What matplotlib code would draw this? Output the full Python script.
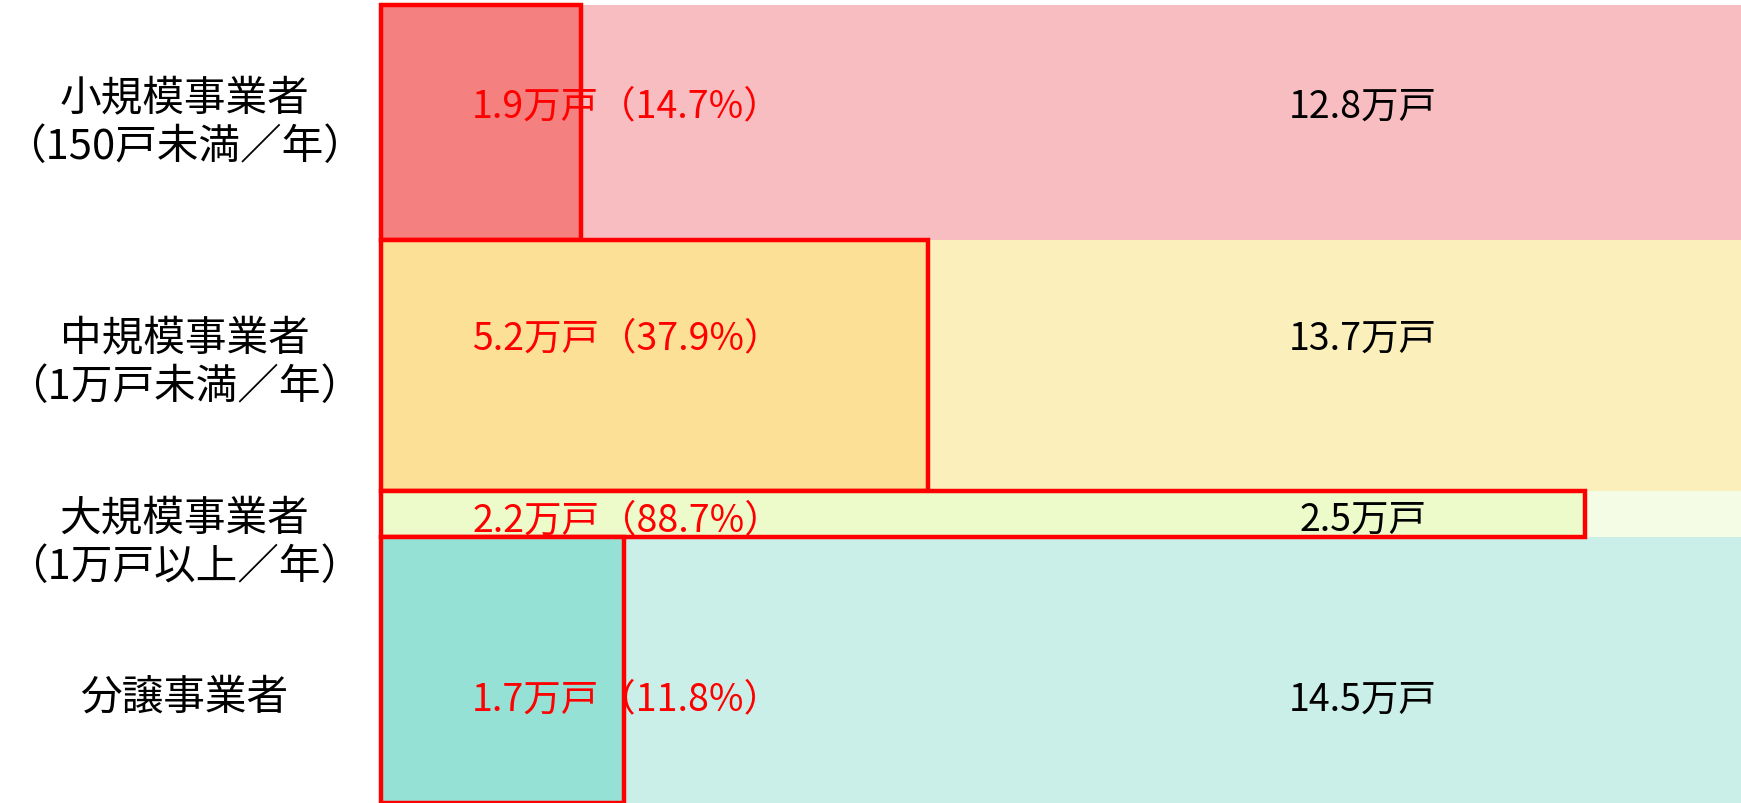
import matplotlib.pyplot as plt
from matplotlib.patches import Rectangle
from matplotlib.transforms import blended_transform_factory

plt.rcParams['font.family'] = ['Noto Sans CJK JP', 'DejaVu Sans']

# rows, top to bottom
categories = [
    '小規模事業者\n（150戸未満／年）',
    '中規模事業者\n（1万戸未満／年）',
    '大規模事業者\n（1万戸以上／年）',
    '分譲事業者',
]
totals = [12.8, 13.7, 2.5, 14.5]      # 万戸, sets the row height
subset = [1.9, 5.2, 2.2, 1.7]         # 万戸 inside the red box
share = [14.7, 37.9, 88.7, 11.8]      # % shown in the label
drawn_share = [14.7, 40.2, 88.5, 17.9]  # % width of the red box as drawn

band_colors = ['#F8BDC0', '#FBF0BC', '#F5FCE6', '#CAEFE8']
box_colors = ['#F58080', '#FCE095', '#EDFAC9', '#96E1D5']
label_frac = [0.43, 0.39, 0.62, 0.61]   # where in the row the values sit
cat_frac = [0.50, 0.49, 1.12, 0.60]

fig = plt.figure(figsize=(17.41, 8.04), dpi=100)
ax = fig.add_axes([381 / 1741, 0, 1 - 381 / 1741, 1 - 6 / 804])
ax.set_xlim(0, 100)
ax.set_ylim(sum(totals), 0)
ax.axis('off')

trans = blended_transform_factory(fig.transFigure, ax.transData)

top = 0
for i, cat in enumerate(categories):
    h = totals[i]
    ax.add_patch(Rectangle((0, top), 100, h, facecolor=band_colors[i],
                           edgecolor='none', zorder=1))
    ax.add_patch(Rectangle((0, top), drawn_share[i], h, facecolor=box_colors[i],
                           edgecolor='#FF0000', linewidth=3.2, zorder=2,
                           clip_on=False))

    y = top + h * label_frac[i]
    ax.text(6.7, y, f'{subset[i]}万戸（{share[i]}%）', color='#FF0000',
            fontsize=27, ha='left', va='center', zorder=3)
    ax.text(72.2, y, f'{totals[i]}万戸', color='black',
            fontsize=27, ha='center', va='center', zorder=3)

    ax.text(0.106, top + h * cat_frac[i], cat, transform=trans,
            fontsize=30, ha='center', va='center', linespacing=1.2,
            clip_on=False)
    top += h

fig.savefig('out.png', dpi=100)
plt.close(fig)
